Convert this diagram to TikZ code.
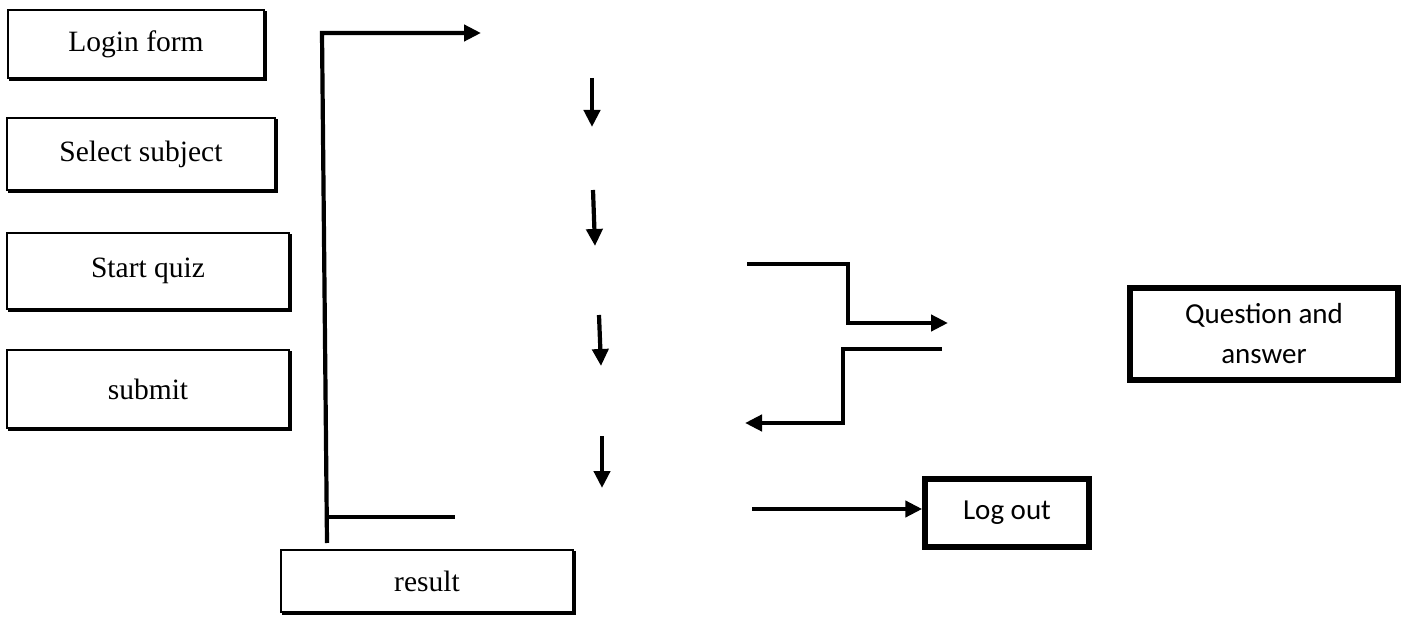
\documentclass[tikz,border=0pt]{standalone}
\usepackage{fontspec}
\setmainfont{Liberation Serif}
\newfontfamily\calib{Carlito}
\usetikzlibrary{arrows.meta,shadows}
\begin{document}
\begin{tikzpicture}[x=1pt,y=-1pt,
  leftbox/.style={draw=black,line width=2.8pt,fill=white,inner sep=0pt,
    font=\fontsize{29.5}{32}\selectfont,
    drop shadow={shadow xshift=2pt,shadow yshift=-2pt,fill=black,draw=black,line width=2.8pt,opacity=1}},
  rightbox/.style={draw=black,line width=5.5pt,fill=white,inner sep=0pt,
    align=center,font=\calib\fontsize{29}{40}\selectfont},
  conn/.style={line width=4.2pt,draw=black},
  arr/.style={conn,-{Triangle[length=17pt,width=16pt]}}]
\useasboundingbox (0,0) rectangle (1403,617);
% left boxes
\node[leftbox,minimum width=256pt,minimum height=68pt] (login) at (136,44) {Login form};
\node[leftbox,minimum width=268pt,minimum height=72pt] (select) at (141,154) {Select subject};
\node[leftbox,minimum width=282pt,minimum height=76pt] (start) at (148,271) {Start quiz};
\node[leftbox,minimum width=282pt,minimum height=78pt] (submit) at (148,389) {submit};
\node[leftbox,minimum width=292pt,minimum height=62pt] (result) at (427,581) {result};
% right boxes
\node[rightbox,minimum width=268pt,minimum height=92pt] (qa) at (1264,334) {Question and\\answer};
\node[rightbox,minimum width=164pt,minimum height=68pt] (logout) at (1007,513) {Log out};
% coordinates
\coordinate (vb) at (327,543);
\coordinate (tl) at (322,33);
\coordinate (ta) at (481,33);
\coordinate (bj) at (326.6,517);
\coordinate (be) at (455,517);
\coordinate (a1s) at (592,78);  \coordinate (a1e) at (592,127);
\coordinate (a2s) at (593,190); \coordinate (a2e) at (595,246);
\coordinate (a3s) at (599,315); \coordinate (a3e) at (601,366);
\coordinate (a4s) at (602,436); \coordinate (a4e) at (602,488);
\coordinate (o1) at (747,264); \coordinate (o2) at (848,264);
\coordinate (o3) at (848,323); \coordinate (o4) at (948,323);
\coordinate (r1) at (942,349); \coordinate (r2) at (843,349);
\coordinate (r3) at (843,423); \coordinate (r4) at (745,423);
\coordinate (ls) at (752,509);
% connectors
\draw[arr] (vb) -- (tl) -- (ta);
\draw[conn] (bj) -- (be);
\draw[arr] (a1s) -- (a1e);
\draw[arr] (a2s) -- (a2e);
\draw[arr] (a3s) -- (a3e);
\draw[arr] (a4s) -- (a4e);
\draw[arr] (o1) -- (o2) -- (o3) -- (o4);
\draw[arr] (r1) -- (r2) -- (r3) -- (r4);
\draw[arr] (ls) -- (ls -| logout.west);
\end{tikzpicture}
\end{document}
